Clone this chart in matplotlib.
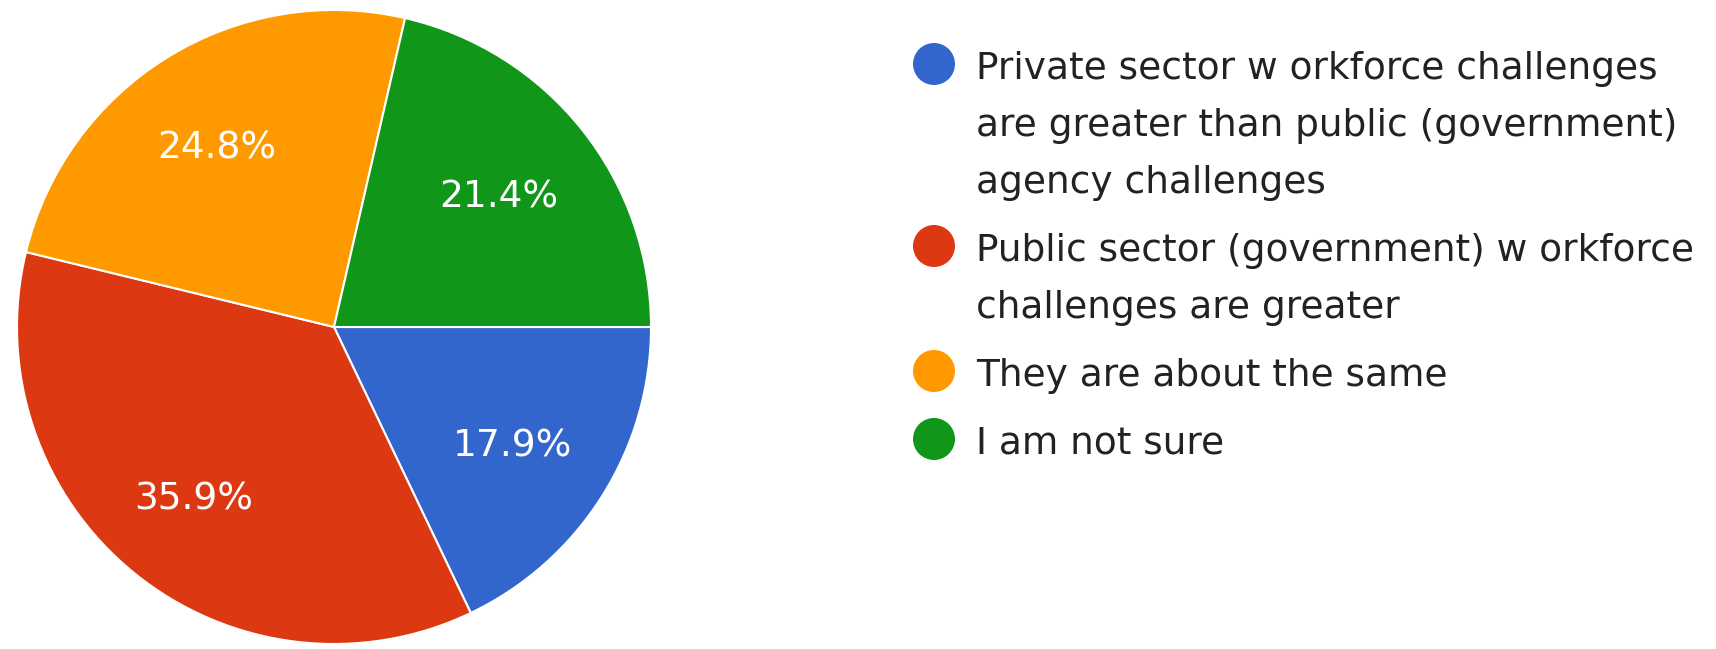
import matplotlib.pyplot as plt

# survey answers, clockwise from 3 o'clock
labels = [
    'Private sector w orkforce challenges\nare greater than public (government)\nagency challenges',
    'Public sector (government) w orkforce\nchallenges are greater',
    'They are about the same',
    'I am not sure',
]
shares = [17.9, 35.9, 24.8, 21.4]
colors = ['#3366cc', '#dc3912', '#ff9900', '#109618']

W, H = 1716, 649
fig = plt.figure(figsize=(W / 100, H / 100), dpi=100)
plt.rcParams['font.family'] = ['DejaVu Sans']

# pie: centre (334, 327) px, radius 317 px
cx, cy, r = 334, 327, 317
ax = fig.add_axes([(cx - r) / W, (H - cy - r) / H, 2 * r / W, 2 * r / H])
wedges, texts, autotexts = ax.pie(
    shares, colors=colors, startangle=0, counterclock=False,
    autopct='%.1f%%', pctdistance=0.68,
    wedgeprops=dict(edgecolor='white', linewidth=1.5),
    textprops=dict(color='white', fontsize=27),
)
for w in wedges:
    w.set_clip_on(False)
# labels sit a few px left/down of the mathematical spot
for t in autotexts:
    x, y = t.get_position()
    t.set_position((x - 4 / r, y - 5 / r))
ax.set_xlim(-1, 1)
ax.set_ylim(-1, 1)
ax.set_aspect('equal')
ax.axis('off')

# legend drawn in pixel space
lax = fig.add_axes([0, 0, 1, 1])
lax.set_xlim(0, W)
lax.set_ylim(H, 0)
lax.axis('off')

line_step = 57
gap = 11
y = 64
for lab, col in zip(labels, colors):
    lax.scatter([934], [y], s=(42 * 0.72) ** 2, color=col, edgecolors='none')
    lines = lab.split('\n')
    for i, ln in enumerate(lines):
        lax.text(976, y + 15 + i * line_step, ln, fontsize=27, color='#222222',
                 va='baseline', ha='left')
    y += len(lines) * line_step + gap

fig.savefig('out.png', dpi=100)
